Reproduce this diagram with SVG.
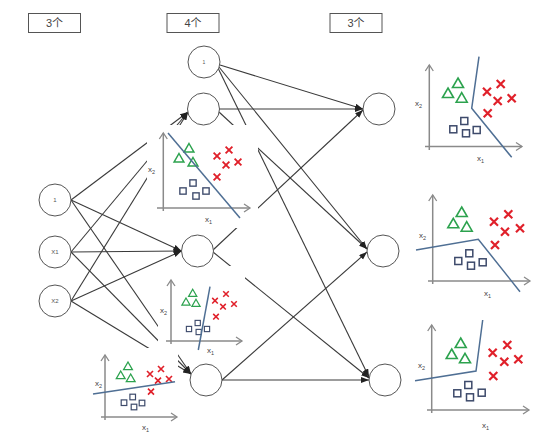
<svg xmlns="http://www.w3.org/2000/svg" width="554" height="434" viewBox="0 0 554 434">
<style>
.hdr{fill:#fff;stroke:#555;stroke-width:1}
.ht{font-family:"Liberation Sans","Noto Sans CJK SC",sans-serif;font-size:11px;fill:#444;text-anchor:middle}
.node{fill:#fff;stroke:#555;stroke-width:1}
.nt{font-family:"Liberation Sans",sans-serif;font-size:6px;fill:#555;text-anchor:middle}
.con{stroke:#3a3a3a;stroke-width:1.1;fill:none;marker-end:url(#arr)}
.ax{stroke:#8a8a8a;stroke-width:1.5;fill:none;marker-end:url(#axarr)}
.sep{stroke:#4f6f94;stroke-width:1.5;fill:none}
.lbl{font-family:"Liberation Sans",sans-serif;font-size:8px;fill:#444}
.sub{font-size:5.5px}
.bg{fill:#fff;stroke:none}
</style>
<defs>
<marker id="arr" markerUnits="userSpaceOnUse" markerWidth="9" markerHeight="7" refX="8" refY="3" orient="auto">
<path d="M0,0 L8,3 L0,6 z" fill="#222"/>
</marker>
<marker id="axarr" markerUnits="userSpaceOnUse" markerWidth="9" markerHeight="9" refX="6" refY="4" orient="auto" overflow="visible">
<path d="M0,0 L6,4 L0,8" fill="none" stroke="#8a8a8a" stroke-width="1.3"/>
</marker>
<path id="tri" d="M0,-5 L5.5,4.5 L-5.5,4.5 Z" fill="none" stroke="#2ca24e" stroke-width="1.6"/>
<path id="crs" d="M-4,-4 L4,4 M4,-4 L-4,4" fill="none" stroke="#e0202a" stroke-width="2.2"/>
<rect id="sq" x="-3.5" y="-3.5" width="7" height="7" fill="none" stroke="#3d4a6b" stroke-width="1.5"/>
</defs>

<g id="headers">
<g id="hdr-input"><rect class="hdr" x="28.5" y="13.5" width="52" height="19"/><text class="ht" x="54.5" y="27">3个</text></g>
<g id="hdr-hidden"><rect class="hdr" x="167" y="13.5" width="52" height="19"/><text class="ht" x="193" y="27">4个</text></g>
<g id="hdr-output"><rect class="hdr" x="330" y="13.5" width="52" height="19"/><text class="ht" x="356" y="27">3个</text></g>
</g>

<g id="connectors">
<line class="con" x1="71" y1="200" x2="188" y2="112"/>
<line class="con" x1="71" y1="252" x2="188" y2="112"/>
<line class="con" x1="71" y1="301" x2="188" y2="112"/>
<line class="con" x1="71" y1="200" x2="181.5" y2="251"/>
<line class="con" x1="71" y1="252" x2="181.5" y2="251"/>
<line class="con" x1="71" y1="301" x2="181.5" y2="251"/>
<line class="con" x1="71" y1="200" x2="191" y2="374"/>
<line class="con" x1="71" y1="252" x2="191" y2="374"/>
<line class="con" x1="71" y1="301" x2="191" y2="374"/>
<line class="con" x1="220" y1="65" x2="363" y2="109"/>
<line class="con" x1="219" y1="67" x2="367" y2="249"/>
<line class="con" x1="218" y1="68" x2="369" y2="377"/>
<line class="con" x1="219" y1="109" x2="363" y2="109"/>
<line class="con" x1="219" y1="112" x2="367" y2="249"/>
<line class="con" x1="213" y1="250" x2="363" y2="110"/>
<line class="con" x1="213" y1="252" x2="369" y2="378"/>
<line class="con" x1="222" y1="380" x2="367" y2="252"/>
<line class="con" x1="222" y1="380" x2="369" y2="380"/>
</g>

<g id="plot-h2">
<rect class="bg" x="147" y="125" width="111" height="103"/>
<line class="ax" x1="163.3" y1="211" x2="163.3" y2="133"/>
<line class="ax" x1="157" y1="208" x2="250" y2="208"/>
<text class="lbl" x="148" y="172">x<tspan class="sub" dy="2">2</tspan></text>
<text class="lbl" x="205" y="222">x<tspan class="sub" dy="2">1</tspan></text>
<use href="#tri" transform="translate(189,148) scale(0.9)"/>
<use href="#tri" transform="translate(179,158) scale(0.9)"/>
<use href="#tri" transform="translate(193,162) scale(0.9)"/>
<use href="#crs" transform="translate(229,150) scale(0.85)"/>
<use href="#crs" transform="translate(217,156) scale(0.85)"/>
<use href="#crs" transform="translate(226,165) scale(0.85)"/>
<use href="#crs" transform="translate(238,162) scale(0.85)"/>
<use href="#crs" transform="translate(217,177) scale(0.85)"/>
<use href="#sq" transform="translate(183,191) scale(0.9)"/>
<use href="#sq" transform="translate(193,183) scale(0.9)"/>
<use href="#sq" transform="translate(196,196) scale(0.9)"/>
<use href="#sq" transform="translate(206,191) scale(0.9)"/>
<line class="sep" x1="168" y1="133" x2="240" y2="218"/>
</g>

<g id="plot-h3">
<rect class="bg" x="158" y="266" width="87" height="88"/>
<line class="ax" x1="171" y1="344" x2="171" y2="280"/>
<line class="ax" x1="166" y1="341" x2="242" y2="341"/>
<text class="lbl" x="160" y="313">x<tspan class="sub" dy="2">2</tspan></text>
<text class="lbl" x="207" y="353">x<tspan class="sub" dy="2">1</tspan></text>
<use href="#tri" transform="translate(192.7,293) scale(0.75)"/>
<use href="#tri" transform="translate(186,301.7) scale(0.75)"/>
<use href="#tri" transform="translate(196,303) scale(0.75)"/>
<use href="#crs" transform="translate(226,294) scale(0.7)"/>
<use href="#crs" transform="translate(215,300.7) scale(0.7)"/>
<use href="#crs" transform="translate(223,306.7) scale(0.7)"/>
<use href="#crs" transform="translate(234,304) scale(0.7)"/>
<use href="#crs" transform="translate(216,316.7) scale(0.7)"/>
<use href="#sq" transform="translate(189,329) scale(0.75)"/>
<use href="#sq" transform="translate(197.7,323) scale(0.75)"/>
<use href="#sq" transform="translate(198.7,332) scale(0.75)"/>
<use href="#sq" transform="translate(207,329) scale(0.75)"/>
<line class="sep" x1="210" y1="286.7" x2="198.3" y2="350"/>
</g>

<g id="plot-h4">
<rect class="bg" x="90" y="348" width="88" height="86"/>
<line class="ax" x1="105" y1="420" x2="105" y2="355"/>
<line class="ax" x1="101" y1="417" x2="177" y2="417"/>
<text class="lbl" x="95" y="386">x<tspan class="sub" dy="2">2</tspan></text>
<text class="lbl" x="142" y="430">x<tspan class="sub" dy="2">1</tspan></text>
<use href="#tri" transform="translate(128,366) scale(0.8)"/>
<use href="#tri" transform="translate(120.7,375) scale(0.8)"/>
<use href="#tri" transform="translate(130.7,378) scale(0.8)"/>
<use href="#crs" transform="translate(150,374) scale(0.75)"/>
<use href="#crs" transform="translate(161,369) scale(0.75)"/>
<use href="#crs" transform="translate(158,380.7) scale(0.75)"/>
<use href="#crs" transform="translate(169,379) scale(0.75)"/>
<use href="#crs" transform="translate(151,391.7) scale(0.75)"/>
<use href="#sq" transform="translate(124,402.7) scale(0.8)"/>
<use href="#sq" transform="translate(132.7,397) scale(0.8)"/>
<use href="#sq" transform="translate(134,407) scale(0.8)"/>
<use href="#sq" transform="translate(142,403) scale(0.8)"/>
<line class="sep" x1="93" y1="394" x2="175" y2="381.7"/>
</g>

<g id="plot-o1">
<line class="ax" x1="429.3" y1="150" x2="429.3" y2="65"/>
<line class="ax" x1="425" y1="146.5" x2="522" y2="146.5"/>
<text class="lbl" x="415" y="106">x<tspan class="sub" dy="2">2</tspan></text>
<text class="lbl" x="477" y="161">x<tspan class="sub" dy="2">1</tspan></text>
<use href="#tri" transform="translate(458,83)"/>
<use href="#tri" transform="translate(448,93)"/>
<use href="#tri" transform="translate(461.7,97.7)"/>
<use href="#crs" transform="translate(500.7,84)"/>
<use href="#crs" transform="translate(487,91.7)"/>
<use href="#crs" transform="translate(497.7,101)"/>
<use href="#crs" transform="translate(511.7,98.3)"/>
<use href="#crs" transform="translate(487.7,113.3)"/>
<use href="#sq" transform="translate(453.3,129.3)"/>
<use href="#sq" transform="translate(464.3,121)"/>
<use href="#sq" transform="translate(466,133.3)"/>
<use href="#sq" transform="translate(476.7,130)"/>
<polyline class="sep" points="479,56.7 471.7,108.3 511.7,157.3"/>
</g>

<g id="plot-o2">
<line class="ax" x1="432.7" y1="284" x2="432.7" y2="195"/>
<line class="ax" x1="428" y1="281" x2="530" y2="281"/>
<text class="lbl" x="419" y="238">x<tspan class="sub" dy="2">2</tspan></text>
<text class="lbl" x="484" y="296">x<tspan class="sub" dy="2">1</tspan></text>
<use href="#tri" transform="translate(461.7,212)"/>
<use href="#tri" transform="translate(453.3,223.3)"/>
<use href="#tri" transform="translate(466.7,226.7)"/>
<use href="#crs" transform="translate(508.3,214.3)"/>
<use href="#crs" transform="translate(494,221.7)"/>
<use href="#crs" transform="translate(505,231.7)"/>
<use href="#crs" transform="translate(520,228.3)"/>
<use href="#crs" transform="translate(495,245)"/>
<use href="#sq" transform="translate(458.3,261)"/>
<use href="#sq" transform="translate(469.3,253.3)"/>
<use href="#sq" transform="translate(471,265.7)"/>
<use href="#sq" transform="translate(482.7,262.3)"/>
<polyline class="sep" points="416,250 478.3,239.3 520,291.7"/>
</g>

<g id="plot-o3">
<line class="ax" x1="431.7" y1="413" x2="431.7" y2="325"/>
<line class="ax" x1="427" y1="410" x2="529" y2="410"/>
<text class="lbl" x="418" y="368">x<tspan class="sub" dy="2">2</tspan></text>
<text class="lbl" x="482" y="428">x<tspan class="sub" dy="2">1</tspan></text>
<use href="#tri" transform="translate(460.7,343)"/>
<use href="#tri" transform="translate(451.7,354)"/>
<use href="#tri" transform="translate(465,358.3)"/>
<use href="#crs" transform="translate(507.3,345)"/>
<use href="#crs" transform="translate(492.7,352.7)"/>
<use href="#crs" transform="translate(504.3,361.7)"/>
<use href="#crs" transform="translate(518.3,359.3)"/>
<use href="#crs" transform="translate(493.3,376)"/>
<use href="#sq" transform="translate(457.3,393.3)"/>
<use href="#sq" transform="translate(468.3,385)"/>
<use href="#sq" transform="translate(470,397.3)"/>
<use href="#sq" transform="translate(481.7,392.7)"/>
<polyline class="sep" points="415,380.7 476,371 482.7,320"/>
</g>

<g id="in-1"><circle class="node" cx="55" cy="200" r="16"/><text class="nt" x="55" y="202">1</text></g>
<g id="in-x1"><circle class="node" cx="55" cy="252" r="16"/><text class="nt" x="55" y="254">X1</text></g>
<g id="in-x2"><circle class="node" cx="55" cy="301" r="16"/><text class="nt" x="55" y="303">X2</text></g>
<g id="hid-1"><circle class="node" cx="204" cy="62" r="16"/><text class="nt" x="204" y="64" style="font-size:5px">1</text></g>
<g id="hid-2"><circle class="node" cx="203.5" cy="109" r="16"/></g>
<g id="hid-3"><circle class="node" cx="197.5" cy="251" r="16"/></g>
<g id="hid-4"><circle class="node" cx="206" cy="380" r="16"/></g>
<g id="out-1"><circle class="node" cx="379" cy="109" r="16"/></g>
<g id="out-2"><circle class="node" cx="383" cy="251" r="16"/></g>
<g id="out-3"><circle class="node" cx="385" cy="380" r="16"/></g>
</svg>
